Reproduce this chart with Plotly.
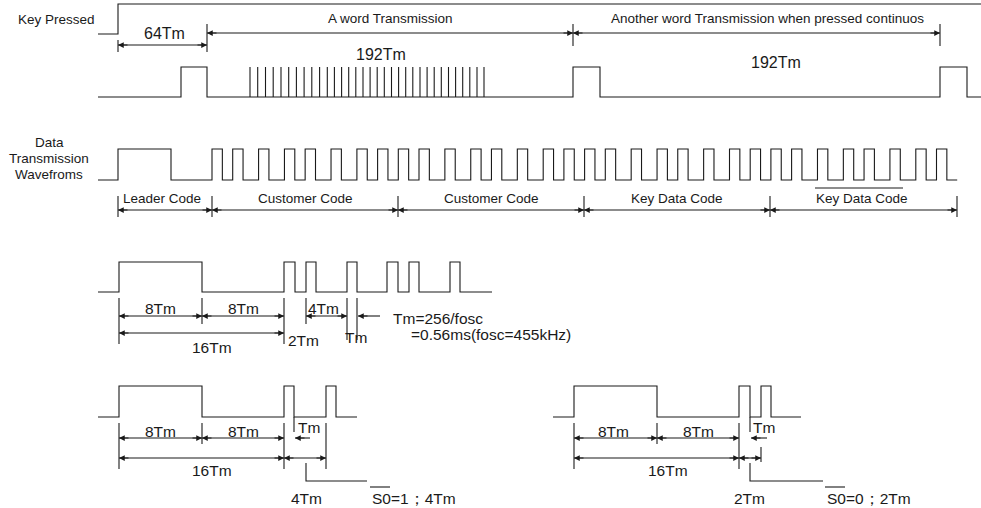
import plotly.graph_objects as go

# ---------------- data (time positions on the diagram's own axis) ----------------
# Row 1: key pressed signal
key_start, key_rise, key_end = 98, 118, 981
# Row 2: transmission bursts (rise/fall edges) and the compressed bit spikes
burst_edges = [181, 207, 573, 600, 940, 967]
burst_spikes = [250, 257.7, 265.5, 273.2, 281, 288.7, 296.4, 304.1, 311.8, 319.6, 327.3,
                334.4, 341.6, 348.7, 355.8, 363, 370.1, 377.2, 384.3, 391.5, 398.6, 405.7,
                412.8, 420, 427.1, 434.2, 441.3, 448.5, 455.6, 462.7, 469.8, 477, 484]
# Row 3: data transmission waveform
leader_edges = [118, 171]
data_start = 212
frame_bits = [0, 1, 1, 0, 1, 1, 0, 0,
              0, 1, 1, 0, 1, 1, 0, 0,
              0, 1, 1, 0, 1, 1, 0, 0,
              0, 1, 1, 0, 1, 1, 0, 0]
bit_unit = 10.35          # pulse width; low = 1 unit for "0", 1.5 units for "1"
section_bounds = [118, 212, 398, 584, 770, 957]
section_names = ["Leader Code", "Customer Code", "Customer Code", "Key Data Code", "Key Data Code"]
section_label_x = [162, 305, 491, 677, 862]
# Row 4: detail of leader + bits
detail_edges = [119, 202, 284, 295, 306, 316, 347, 357, 387, 398, 409, 419, 450, 460]
# Row 5: S0=1 and S0=0 repeat codes
s1_edges = [119, 202, 284, 294, 326, 336]
s0_edges = [574, 657, 739, 750, 761, 771]

# ---------------- styling ----------------
INK = "#1a1a1a"
FONT = "Liberation Sans, Arial, sans-serif"

seg_x, seg_y = [], []


def add_path(xs, ys):
    seg_x.extend(xs + [None])
    seg_y.extend(ys + [None])


def wave(x_start, edges, x_end, y_low, y_high):
    xs, ys = [x_start], [y_low]
    level = 0
    for e in edges:
        cur = y_high if level else y_low
        level ^= 1
        nxt = y_high if level else y_low
        xs += [e, e]
        ys += [cur, nxt]
    xs.append(x_end)
    ys.append(y_high if level else y_low)
    add_path(xs, ys)


def tick(x, y0, y1):
    add_path([x, x], [y0, y1])


annotations = []


def head(x, y, direction):
    annotations.append(dict(x=x, y=y, xref="x", yref="y", ax=-11 * direction, ay=0,
                            showarrow=True, arrowhead=2, arrowsize=1.15, arrowwidth=1,
                            arrowcolor=INK, text="", standoff=0))


def darrow(a, b, y):
    add_path([a, b], [y, y])
    head(a, y, -1)
    head(b, y, 1)


def sarrow(tail, tip, y):
    add_path([tail, tip], [y, y])
    head(tip, y, 1 if tip > tail else -1)


def label(text, x, y, size=13.5, anchor="center"):
    annotations.append(dict(x=x, y=y, xref="x", yref="y", text=text, showarrow=False,
                            xanchor=anchor, yanchor="middle",
                            font=dict(family=FONT, size=size, color=INK)))


# Row 1
wave(key_start, [key_rise], key_end, 34, 4)
tick(118, 40, 52)
tick(207, 24, 52)
darrow(118, 207, 45)
tick(573, 24, 46)
tick(940, 24, 46)
darrow(207, 573, 33)
darrow(573, 940, 33)
label("Key Pressed", 97, 19, anchor="right")
label("64Tm", 164, 33, 16)
label("A word Transmission", 390, 18)
label("Another word Transmission when pressed continuos", 767, 18)

# Row 2
wave(98, burst_edges, 981, 97, 67)
for sx in burst_spikes:
    tick(sx, 67, 97)
label("192Tm", 381, 54, 16)
label("192Tm", 776, 62, 16)

# Row 3
data_edges = list(leader_edges)
t = data_start
for b in frame_bits:
    data_edges += [t, t + bit_unit]
    t += bit_unit * (2.0 if b == 0 else 2.5)
wave(98, data_edges, t, 180, 149)
label("Data", 49, 142)
label("Transmission", 49, 158)
label("Wavefroms", 49, 174)
for i, bx in enumerate(section_bounds):
    tick(bx, 196, 217)
for i in range(len(section_names)):
    darrow(section_bounds[i], section_bounds[i + 1], 210)
    label(section_names[i], section_label_x[i], 198, 13.5)
add_path([815, 903], [188, 188])

# Row 4
wave(98, detail_edges, 492, 292, 262)
tick(119, 298, 344)
tick(202, 298, 324)
tick(284, 298, 344)
tick(306, 298, 324)
tick(347, 298, 340)
tick(357, 298, 340)
darrow(119, 202, 316)
darrow(202, 284, 316)
darrow(306, 347, 316)
darrow(119, 284, 333)
sarrow(380, 358, 316)
label("8Tm", 160, 308, 15.5)
label("8Tm", 243, 308, 15.5)
label("4Tm", 323, 308, 15.5)
label("16Tm", 212, 347, 15.5)
label("2Tm", 303, 340, 15.5)
label("Tm", 356, 337, 15.5)
label("Tm=256/fosc", 391, 318, 15.5, anchor="left")
label("=0.56ms(fosc=455kHz)", 409, 334, 15.5, anchor="left")

# Row 5 left (S0 = 1)
wave(98, s1_edges, 357, 417, 386)
tick(119, 423, 469)
tick(202, 423, 444)
tick(284, 423, 469)
tick(294, 417, 432)
tick(326, 423, 469)
darrow(119, 202, 438)
darrow(202, 284, 438)
darrow(119, 284, 458)
darrow(284, 326, 458)
sarrow(310, 295, 438)
add_path([306, 306, 367], [463, 481, 481])
label("8Tm", 160, 431, 15.5)
label("8Tm", 243, 431, 15.5)
label("16Tm", 212, 470, 15.5)
label("Tm", 309, 427, 15.5)
label("4Tm", 306, 498, 15.5)
label("S0=1；4Tm", 370, 498, 15.5, anchor="left")
add_path([370, 390], [487, 487])

# Row 5 right (S0 = 0)
wave(553, s0_edges, 801, 417, 386)
tick(574, 423, 469)
tick(657, 423, 444)
tick(739, 423, 469)
tick(750, 417, 432)
tick(761, 447, 462)
darrow(574, 657, 438)
darrow(657, 739, 438)
darrow(574, 739, 458)
darrow(739, 761, 458)
sarrow(767, 751, 438)
add_path([750, 750, 823], [463, 481, 481])
label("8Tm", 613, 431, 15.5)
label("8Tm", 698, 431, 15.5)
label("16Tm", 668, 470, 15.5)
label("Tm", 764, 427, 15.5)
label("2Tm", 749, 498, 15.5)
label("S0=0；2Tm", 825, 498, 15.5, anchor="left")
add_path([825, 845], [487, 487])

fig = go.Figure()
fig.add_trace(go.Scatter(x=seg_x, y=seg_y, mode="lines",
                         line=dict(color=INK, width=1.1), hoverinfo="skip",
                         showlegend=False))
fig.update_layout(
    width=981, height=508,
    margin=dict(l=0, r=0, t=0, b=0),
    paper_bgcolor="white", plot_bgcolor="white",
    xaxis=dict(range=[0, 981], visible=False, fixedrange=True),
    yaxis=dict(range=[508, 0], visible=False, fixedrange=True),
    annotations=annotations,
    showlegend=False,
)
fig.write_html("out.html", config={"displayModeBar": False},
               post_script="document.body.style.margin='0px';document.body.style.overflow='hidden';")
